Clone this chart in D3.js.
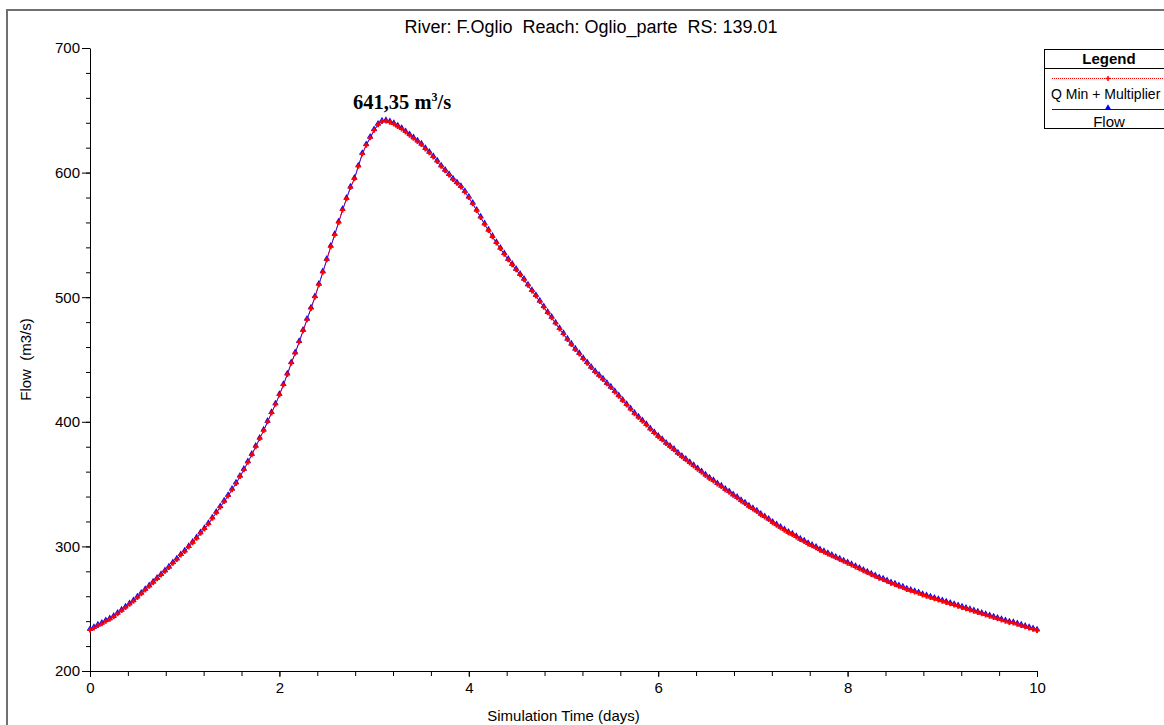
<!DOCTYPE html>
<html lang="en">
<head>
<meta charset="UTF-8">
<title>F.Oglio - Oglio_parte RS 139.01</title>
<style>
  body { margin: 0; background: #fff; }
  svg text { font-family: "Liberation Sans", Arial, sans-serif; fill: #000; }
</style>
</head>
<body>
<svg id="chart" width="1164" height="725"></svg>
<script src="https://d3js.org/d3.v7.min.js"></script>
<script>
const chartTitle = "River: F.Oglio  Reach: Oglio_parte  RS: 139.01";
const xLabel = "Simulation Time (days)";
const yLabel = "Flow  (m3/s)";
const seriesNames = ["Q Min + Multiplier", "Flow"];
const stepDays = 1 / 24;   // hourly output

// flow, m3/s, one value per hour from day 0 to day 10
const flow = [
  233, 234.5, 236.5, 238, 240, 241.5, 243.5, 246, 248.5, 251, 253.5, 256,
  259, 262, 265, 268, 271, 274, 277, 280, 283, 286.5, 289.5, 293,
  296, 299.5, 303, 306.5, 310.5, 314, 318, 322.5, 327, 331.5, 336, 340.5,
  345.5, 350.5, 356, 361.5, 367.5, 373.5, 380, 386.5, 393, 400, 407, 414,
  421.5, 429.5, 438, 447, 455, 464, 473, 482, 491, 500, 510, 520,
  530, 540.5, 550, 560, 570, 579, 588, 595, 605, 615, 622, 628,
  634, 638.5, 641, 641.35, 640.5, 639, 637, 635, 632.5, 630, 627.5, 625,
  622.5, 619, 616, 612.5, 609, 605, 601.5, 598, 594.5, 591.5, 588.5, 584.5,
  580, 575, 569.5, 564, 558.5, 553.5, 548.5, 543.5, 539, 534.5, 530, 526,
  522, 518, 514, 509.5, 505, 501, 496.5, 492, 487.5, 483.5, 479, 474.5,
  470.5, 466, 462, 458, 454.5, 450.5, 447, 443.5, 440, 437, 434, 430.5,
  427.5, 424, 420.5, 417, 413.5, 410, 406.5, 403.5, 400.5, 397.5, 394, 391,
  388, 385.5, 382.5, 380, 377.5, 374.5, 372, 369.5, 367, 364.5, 362, 359.5,
  357, 354.5, 352.5, 350, 348, 345.5, 343.5, 341, 339, 336.5, 334.5, 332,
  330, 328, 325.5, 323.5, 321.5, 319, 317, 315, 313, 311, 309.5, 307.5,
  305.5, 304, 302, 300.5, 299, 297, 295.5, 294, 292.5, 291, 289.5, 288,
  286.5, 285, 283.5, 282, 280.5, 279, 277.5, 276, 274.5, 273.5, 272, 270.5,
  269.5, 268, 267, 265.5, 264.5, 263.5, 262.5, 261, 260, 259, 258, 257,
  256, 255, 254, 253, 252, 251, 250, 249, 248, 247, 246, 245,
  244, 243, 242, 241, 240, 239, 238.5, 237.5, 236.5, 235.5, 234.5, 233.5, 232.5
];
// boundary hydrograph (Q min + multiplier) - same as computed flow at this RS
const qMinMult = flow.slice();

const peakText = "641,35";
const xTicks = [0, 2, 4, 6, 8, 10];
const yTicks = [200, 300, 400, 500, 600, 700];

let margin = {top: 48, right: 127, bottom: 54, left: 90};
let width = 1164 - margin.left - margin.right;
let height = 725 - margin.top - margin.bottom;

var svg = d3.select("#chart");

// outer frame
svg.append("rect")
  .attr("x", 7).attr("y", 10)
  .attr("width", 1200).attr("height", 800)
  .attr("fill", "none")
  .attr("stroke", "#707070")
  .attr("stroke-width", 2);

// title
svg.append("text")
  .attr("x", 591).attr("y", 33)
  .attr("text-anchor", "middle")
  .style("font-size", "18px")
  .style("white-space", "pre")
  .text(chartTitle);

var g = svg.append("g")
  .attr("transform", "translate(" + margin.left + "," + margin.top + ")");

var x = d3.scaleLinear().domain([0, 10]).range([0, width]);
var y = d3.scaleLinear().domain([200, 700]).range([height, 0]);

// minor ticks first, then major ticks + labels
g.append("g")
  .attr("transform", "translate(0," + height + ")")
  .call(d3.axisBottom(x).tickValues(d3.range(0, 10.01, 0.4)).tickSize(5).tickFormat(""))
  .call(a => a.select(".domain").remove());
g.append("g")
  .attr("transform", "translate(0," + height + ")")
  .call(d3.axisBottom(x).tickValues(xTicks).tickSize(6).tickPadding(5).tickSizeOuter(0).tickFormat(d3.format("d")))
  .call(a => a.selectAll("text").style("font-size", "15px").attr("fill", "#000"));

g.append("g")
  .call(d3.axisLeft(y).tickValues(d3.range(200, 701, 20)).tickSize(4).tickFormat(""))
  .call(a => a.select(".domain").remove());
g.append("g")
  .call(d3.axisLeft(y).tickValues(yTicks).tickSize(8).tickPadding(2).tickSizeOuter(0).tickFormat(d3.format("d")))
  .call(a => a.selectAll("text").style("font-size", "15px").attr("fill", "#000"));

// axis titles
svg.append("text")
  .attr("x", margin.left + width / 2).attr("y", 721)
  .attr("text-anchor", "middle")
  .style("font-size", "15px")
  .text(xLabel);
svg.append("text")
  .attr("transform", "rotate(-90)")
  .attr("x", -(margin.top + height / 2)).attr("y", 31)
  .attr("text-anchor", "middle")
  .style("font-size", "15px")
  .style("white-space", "pre")
  .text(yLabel);

var line = d3.line()
  .x(function(d, i) { return x(i * stepDays); })
  .y(function(d) { return y(d); });

var tri = d3.symbol().type(d3.symbolTriangle).size(18);
var plus = "M-2.5,0H2.5M0,-2.5V2.5";

// Flow (blue, solid, triangles)
g.append("path").datum(flow)
  .attr("fill", "none").attr("stroke", "#0000ff").attr("stroke-width", 1)
  .attr("d", line);
g.append("g").selectAll("path").data(flow).enter()
  .append("path")
  .attr("d", tri)
  .attr("fill", "#0000ff")
  .attr("transform", function(d, i) { return "translate(" + x(i * stepDays) + "," + (y(d) - 1) + ")"; });

// Q Min + Multiplier (red, dotted, crosses)
g.append("path").datum(qMinMult)
  .attr("fill", "none").attr("stroke", "#ff0000").attr("stroke-width", 1)
  .attr("stroke-dasharray", "1,1")
  .attr("d", line);
g.append("g").selectAll("path").data(qMinMult).enter()
  .append("path")
  .attr("d", plus)
  .attr("stroke", "#ff0000").attr("stroke-width", 2)
  .attr("transform", function(d, i) { return "translate(" + x(i * stepDays) + "," + y(d) + ")"; });

// peak annotation
var peakVal = d3.max(flow);
var peakIdx = flow.indexOf(peakVal);
var ann = g.append("text")
  .attr("x", x(peakIdx * stepDays) - 33)
  .attr("y", y(peakVal) - 12)
  .style("font-family", "'Liberation Serif', 'Times New Roman', serif")
  .style("font-weight", "bold")
  .style("font-size", "20.5px");
ann.append("tspan").text(peakText + " m");
ann.append("tspan").attr("dy", -8).style("font-size", "12px").text("3");
ann.append("tspan").attr("dy", 8).text("/s");

// legend
var lg = svg.append("g").attr("transform", "translate(1044,49)");
lg.append("rect")
  .attr("x", 0.5).attr("y", 0.5).attr("width", 140).attr("height", 79)
  .attr("fill", "#fff").attr("stroke", "#000").attr("stroke-width", 1);
lg.append("line")
  .attr("x1", 0.5).attr("x2", 140).attr("y1", 19.5).attr("y2", 19.5)
  .attr("stroke", "#000");
lg.append("text")
  .attr("x", 65).attr("y", 15)
  .attr("text-anchor", "middle")
  .style("font-size", "15px").style("font-weight", "bold")
  .text("Legend");

// Q Min + Multiplier row
lg.append("line")
  .attr("x1", 8).attr("x2", 140).attr("y1", 29.5).attr("y2", 29.5)
  .attr("stroke", "#ff0000").attr("stroke-dasharray", "1,1");
lg.append("path").attr("d", plus)
  .attr("stroke", "#ff0000").attr("stroke-width", 1.5)
  .attr("transform", "translate(64,29.5)");
lg.append("text")
  .attr("x", 7).attr("y", 50)
  .style("font-size", "14px")
  .text(seriesNames[0]);

// Flow row
lg.append("line")
  .attr("x1", 8).attr("x2", 140).attr("y1", 60.5).attr("y2", 60.5)
  .attr("stroke", "#0000ff");
lg.append("path").attr("d", tri)
  .attr("fill", "#0000ff")
  .attr("transform", "translate(64,59)");
lg.append("text")
  .attr("x", 65).attr("y", 78)
  .attr("text-anchor", "middle")
  .style("font-size", "15px")
  .text(seriesNames[1]);
</script>
</body>
</html>
